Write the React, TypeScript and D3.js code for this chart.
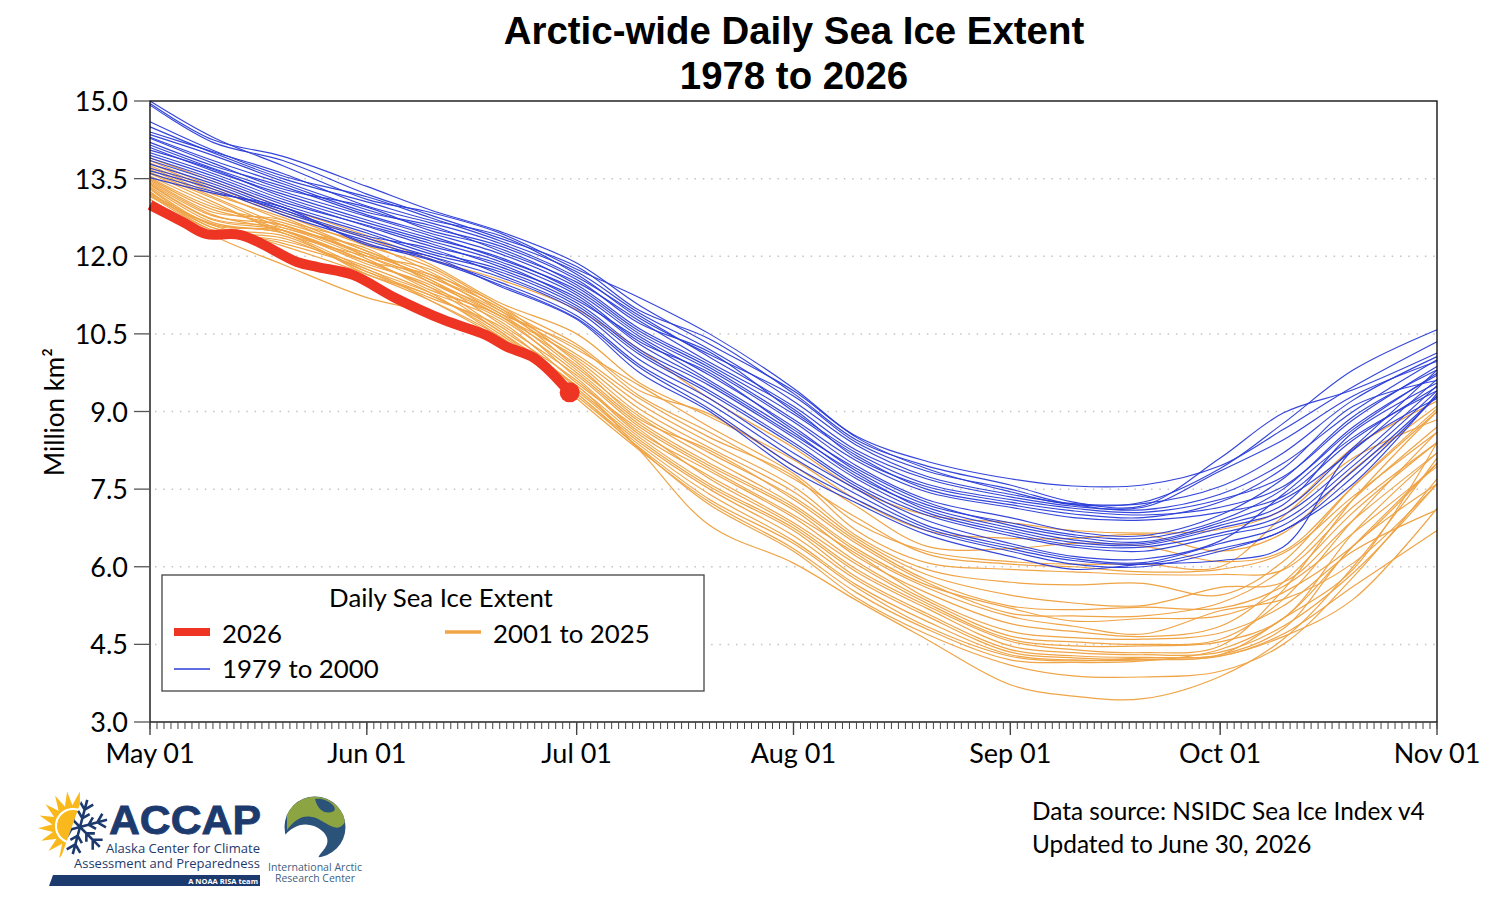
import React from "react";
import * as d3 from "d3";

const knotDates = ["2026-05-01","2026-05-10","2026-05-20","2026-06-01","2026-06-10","2026-06-20","2026-07-01","2026-07-10","2026-07-20","2026-08-01","2026-08-10","2026-08-20","2026-09-01","2026-09-10","2026-09-20","2026-10-01","2026-10-10","2026-10-20","2026-11-01"];

const blueYears: number[][] = [
[15.00,14.30,13.75,13.10,12.85,12.45,11.75,11.20,10.50,9.45,8.50,7.90,7.45,7.20,7.25,7.90,8.77,9.80,10.58],
[14.95,14.25,13.93,13.35,12.90,12.48,11.87,11.05,10.30,9.40,8.52,8.04,7.70,7.56,7.58,7.95,8.65,9.48,10.35],
[14.92,14.20,13.85,13.20,12.80,12.35,11.80,10.95,10.40,9.35,8.45,7.95,7.58,7.25,7.18,8.10,8.97,9.42,10.13],
[14.60,14.05,13.55,13.15,12.75,12.30,11.70,10.90,10.20,9.20,8.35,7.75,7.40,7.22,7.22,7.55,8.20,9.22,10.06],
[14.50,14.00,13.50,13.05,12.70,12.40,11.65,10.80,10.10,9.30,8.40,7.85,7.50,7.20,7.15,7.85,8.45,9.30,9.97],
[14.40,14.02,13.60,12.97,12.65,12.25,11.60,10.85,10.05,9.10,8.25,7.70,7.35,7.17,7.10,7.40,8.00,9.00,10.00],
[14.35,13.95,13.45,12.90,12.55,12.20,11.55,10.70,10.15,9.00,8.20,7.60,7.30,7.13,7.05,7.30,7.74,8.84,9.87],
[14.30,13.85,13.40,12.85,12.60,12.10,11.50,10.75,9.95,9.05,8.10,7.55,7.25,7.08,7.00,7.15,7.55,8.65,9.74],
[14.28,13.80,13.30,12.95,12.50,12.15,11.45,10.60,9.90,8.95,8.15,7.50,7.20,7.02,6.95,7.25,7.90,9.10,9.60],
[14.20,13.75,13.35,12.80,12.45,12.05,11.40,10.55,9.85,8.85,8.05,7.45,7.15,6.95,6.90,7.05,7.36,8.45,9.48],
[14.15,13.70,13.25,12.77,12.40,11.95,11.35,10.50,9.80,8.80,7.95,7.30,6.95,6.68,6.60,7.00,7.70,8.90,9.80],
[14.10,13.65,13.20,12.70,12.35,11.98,11.30,10.45,9.70,8.70,7.85,7.20,6.85,6.62,6.55,6.90,7.50,8.70,9.70],
[14.05,13.68,13.15,12.65,12.30,11.90,11.25,10.35,9.75,8.65,7.90,7.25,6.80,6.58,6.48,6.85,7.30,8.25,9.62],
[14.00,13.60,13.10,12.58,12.20,11.85,11.15,10.40,9.60,8.60,7.75,7.15,6.75,6.52,6.45,6.80,7.20,8.60,9.55],
[13.95,13.55,13.05,12.60,12.25,11.80,11.20,10.30,9.55,8.55,7.80,7.10,6.70,6.47,6.42,6.75,7.10,8.30,9.80],
[13.90,13.50,13.00,12.50,12.10,11.75,11.10,10.20,9.50,8.50,7.70,7.05,6.65,6.42,6.38,6.65,7.00,8.05,9.50],
[13.85,13.45,12.95,12.45,12.05,11.70,11.05,10.15,9.40,8.40,7.60,7.00,6.60,6.38,6.30,6.60,6.90,7.95,9.40],
[13.78,13.40,12.90,12.39,12.15,11.65,11.00,10.10,9.35,8.35,7.55,6.90,6.45,6.20,6.15,6.50,7.40,8.50,9.40],
[13.70,13.35,12.85,12.35,12.00,11.60,10.95,10.00,9.25,8.20,7.50,6.80,6.40,6.16,6.08,6.45,6.80,7.85,9.30],
[13.65,13.30,12.80,12.30,11.95,11.50,10.85,9.90,9.15,8.10,7.40,6.75,6.35,6.12,6.05,6.35,6.70,7.74,9.30],
[13.60,13.25,12.90,12.25,11.93,11.45,10.80,9.85,9.05,7.95,7.30,6.70,6.30,6.05,6.00,6.30,6.70,7.60,9.35],
[13.52,13.22,12.95,12.22,12.00,11.42,10.78,9.75,9.00,7.85,7.23,6.62,6.20,5.95,6.05,6.12,6.38,8.26,9.25],
];

const orangeYears: number[][] = [
[13.90,13.45,12.95,12.40,11.95,11.55,10.97,10.20,9.25,8.30,7.50,7.00,6.85,6.70,6.65,6.72,7.10,8.30,9.20],
[13.85,13.35,12.85,12.35,11.85,11.10,10.50,9.55,8.90,8.07,7.30,6.70,6.55,6.55,6.62,6.30,6.65,7.87,9.10],
[13.80,13.30,12.80,12.20,11.80,11.05,10.30,9.40,8.95,7.95,7.17,6.40,6.35,6.45,6.40,6.10,6.30,7.55,9.00],
[13.75,13.25,12.70,12.25,11.70,11.00,10.20,9.50,8.70,7.80,6.85,6.30,6.10,6.05,6.05,6.00,6.97,8.10,8.84],
[13.72,13.20,12.75,12.10,11.65,10.90,10.25,9.30,8.60,7.70,6.95,6.25,6.05,6.00,5.90,5.95,6.26,7.36,8.60],
[13.68,13.15,12.60,12.05,11.60,10.95,10.10,9.25,8.50,7.75,6.70,6.08,5.95,5.90,5.85,5.85,5.94,7.16,8.40],
[13.62,13.12,12.55,12.15,11.50,10.85,10.05,9.15,8.40,7.55,6.60,5.95,5.70,5.65,5.68,5.45,6.10,7.55,9.05],
[13.60,13.05,12.45,12.00,11.75,10.95,10.00,9.05,8.30,7.45,6.55,5.85,5.45,5.30,5.25,5.60,5.70,6.90,8.20],
[13.55,13.00,12.50,11.90,11.65,11.05,9.95,8.95,8.20,7.35,6.50,5.75,5.24,5.17,5.22,5.20,5.62,6.65,7.94],
[13.52,12.95,12.65,12.10,11.55,10.85,9.90,8.85,8.25,7.30,6.45,5.70,5.10,5.05,5.05,5.30,5.95,7.30,8.70],
[13.50,12.90,12.60,12.05,11.60,11.00,9.85,8.90,8.10,7.20,6.35,5.65,5.20,4.95,5.00,5.05,5.50,6.40,8.00],
[13.48,12.85,12.70,12.00,11.50,10.90,9.80,8.80,8.00,7.15,6.30,5.60,5.04,4.85,4.70,5.15,5.37,6.07,7.60],
[13.45,12.80,12.50,11.90,11.40,10.80,9.75,8.75,7.95,7.10,6.20,5.50,4.90,4.75,4.65,4.85,5.70,7.05,8.40],
[13.42,12.78,12.60,12.00,11.55,10.70,9.70,8.70,7.90,7.00,6.25,5.40,4.75,4.63,4.60,4.72,5.24,6.30,7.10],
[13.40,12.72,12.55,11.95,11.35,10.85,9.65,8.60,7.85,6.95,6.10,5.35,4.66,4.55,4.50,4.60,5.37,6.90,8.60],
[13.38,12.70,12.50,11.85,11.45,10.60,9.60,8.55,7.75,6.85,6.05,5.30,4.60,4.47,4.47,4.55,5.00,6.65,8.20],
[13.35,12.65,12.45,11.75,11.30,10.75,9.55,8.65,7.70,6.80,5.95,5.25,4.56,4.40,4.34,4.47,5.55,7.30,9.00],
[13.32,12.60,12.50,11.90,11.40,10.55,9.50,8.50,7.60,6.75,5.90,5.20,4.47,4.34,4.30,4.35,4.85,5.88,7.60],
[13.30,12.55,12.40,11.70,11.20,10.65,9.45,8.45,7.55,6.70,5.80,5.10,4.40,4.28,4.25,4.30,4.80,6.40,7.60],
[13.25,12.50,12.30,11.80,11.30,10.45,9.40,8.40,7.50,6.60,5.75,5.05,4.35,4.24,4.21,4.27,4.70,5.62,6.70],
[13.22,12.62,12.45,11.65,11.25,10.50,9.35,8.35,7.40,6.50,5.65,4.95,4.30,4.20,4.20,4.30,5.00,5.95,8.40],
[13.20,12.55,12.25,11.75,11.15,10.40,9.30,8.30,7.30,6.45,5.60,4.85,4.27,4.18,4.24,4.28,4.65,5.37,7.13],
[13.18,12.50,12.35,11.70,11.25,10.55,9.25,8.25,7.25,6.35,5.50,4.80,4.20,4.15,4.18,4.40,5.00,6.40,8.00],
[13.15,12.60,12.20,11.65,11.15,10.45,9.35,8.28,7.20,6.30,5.40,4.70,4.10,3.89,3.87,3.98,4.50,5.80,7.70],
[13.10,12.40,11.84,11.20,10.90,10.30,9.50,8.25,6.80,6.07,5.35,4.60,3.72,3.50,3.45,3.88,4.60,6.00,8.10],
];

const redDates = ["2026-05-01","2026-05-06","2026-05-09","2026-05-14","2026-05-22","2026-05-25","2026-05-30","2026-06-05","2026-06-12","2026-06-18","2026-06-21","2026-06-25","2026-06-30"];
const redValues = [12.99,12.64,12.43,12.41,11.89,11.79,11.64,11.2,10.77,10.48,10.25,10.03,9.37];

const yTicks = [3,4.5,6,7.5,9,10.5,12,13.5,15];
const monthTicks = ["2026-05-01","2026-06-01","2026-07-01","2026-08-01","2026-09-01","2026-10-01","2026-11-01"];
const monthLabels = ["May 01","Jun 01","Jul 01","Aug 01","Sep 01","Oct 01","Nov 01"];
const rayAngles = [8,-13,-34,-55,-76,-97,-118,-139,-160];
const flakeAngles = [0,60,120,180,240,300];

const BLUE = "#2a3cd8";
const ORANGE = "#efa446";
const RED = "#ee3524";
const NAVY = "#1d3a6e";
const SANS = "Lato, 'Open Sans', sans-serif";

const parse = (s: string) => new Date(s + "T00:00:00Z");
const x = d3.scaleUtc().domain([parse("2026-05-01"), parse("2026-11-01")]).range([150, 1437]);
const y = d3.scaleLinear().domain([3, 15]).range([722, 101]);
const knotX = knotDates.map((d) => x(parse(d)));
const line = d3.line<number>().x((_, i) => knotX[i]).y((v) => y(v)).curve(d3.curveCatmullRom.alpha(0.5));
const redLine = d3.line<number>().x((_, i) => x(parse(redDates[i]))).y((v) => y(v)).curve(d3.curveCatmullRom.alpha(0.5));
const days = d3.utcDay.range(parse("2026-05-01"), parse("2026-11-02"));

function Logo() {
  return (
    <g>
      <defs>
        <clipPath id="leftSide"><path d="M30,790 L85,790 L60,860 L30,860 Z" /></clipPath>
        <clipPath id="rightSide"><path d="M85,790 L120,790 L120,860 L60,860 Z" /></clipPath>
      </defs>
      <g clipPath="url(#leftSide)" fill="#f9b91c">
        {rayAngles.map((a) => (
          <path key={a} d="M-4.5,-18 L4.5,-18 L2,-35 Z" transform={`translate(73,826) rotate(${a})`} />
        ))}
        <circle cx={73} cy={826} r={16} />
      </g>
      <g clipPath="url(#rightSide)" stroke={NAVY} strokeWidth={2.6} fill="none">
        {flakeAngles.map((a) => (
          <path key={a} d="M0,0 L0,-28 M-7,-25 L0,-18 L7,-25 M-6,-15 L0,-9 L6,-15" transform={`translate(80,827) rotate(${a + 15})`} />
        ))}
      </g>
      <text x={109} y={834} fontFamily="'Liberation Sans', sans-serif" fontWeight={700} fontSize={40} fill={NAVY} stroke={NAVY} strokeWidth={0.8} textLength={152} lengthAdjust="spacingAndGlyphs">ACCAP</text>
      <text x={260} y={853} textAnchor="end" fontFamily="'Open Sans', sans-serif" fontSize={12.5} fill={NAVY} textLength={154} lengthAdjust="spacingAndGlyphs">Alaska Center for Climate</text>
      <text x={260} y={868} textAnchor="end" fontFamily="'Open Sans', sans-serif" fontSize={12.5} fill={NAVY} textLength={186} lengthAdjust="spacingAndGlyphs">Assessment and Preparedness</text>
      <path d="M53,875 L260,875 L260,886 L49,886 Z" fill={NAVY} />
      <text x={258} y={884} textAnchor="end" fontFamily="'Open Sans', sans-serif" fontSize={7.5} fontWeight={700} fill="#fff">A NOAA RISA team</text>
      <circle cx={315} cy={827} r={30.5} fill="#2b5279" />
      <path d="M287,815 A30.5,30.5 0 0 1 345,822 C338,835 326,822 316,818 C304,814 296,818 287,830 Z" fill="#8da443" />
      <path d="M315,799 C325,797 338,806 334,811 C326,815 318,811 315,799 Z" fill="#2b5279" />
      <path d="M283,838 C291,826 303,822 314,826 C326,831 331,840 325,848 C320,855 316,857 320,862 L283,870 Z" fill="#fff" />
      <text x={315} y={871} textAnchor="middle" fontFamily="'Open Sans', sans-serif" fontSize={10} fill="#3d5f82" textLength={94} lengthAdjust="spacingAndGlyphs">International Arctic</text>
      <text x={315} y={882} textAnchor="middle" fontFamily="'Open Sans', sans-serif" fontSize={10} fill="#3d5f82" textLength={80} lengthAdjust="spacingAndGlyphs">Research Center</text>
    </g>
  );
}

export default function App() {
  return (
    <svg width={1500} height={900} style={{ position: "absolute", left: 0, top: 0, background: "#fff" }}>
      <text x={794} y={44} textAnchor="middle" fontFamily="'Liberation Sans', sans-serif" fontWeight={700} fontSize={38.4}>Arctic-wide Daily Sea Ice Extent</text>
      <text x={794} y={89} textAnchor="middle" fontFamily="'Liberation Sans', sans-serif" fontWeight={700} fontSize={38.4}>1978 to 2026</text>

      {yTicks.slice(1, -1).map((t) => (
        <line key={t} x1={155} x2={1437} y1={y(t)} y2={y(t)} stroke="#c4c4c4" strokeWidth={1.5} strokeDasharray="1.5 6.8" />
      ))}

      <g fill="none">
        {orangeYears.map((s, i) => (
          <path key={i} d={line(s) as string} stroke={ORANGE} strokeWidth={1.2} />
        ))}
        {blueYears.map((s, i) => (
          <path key={i} d={line(s) as string} stroke={BLUE} strokeWidth={1.15} opacity={0.95} />
        ))}
        <path d={redLine(redValues) as string} stroke={RED} strokeWidth={10} />
      </g>
      <circle cx={x(parse(redDates[redDates.length - 1]))} cy={y(redValues[redValues.length - 1])} r={10} fill={RED} />

      <rect x={150} y={101} width={1287} height={621} fill="none" stroke="#000" strokeWidth={1.3} />

      {yTicks.map((t) => (
        <g key={t}>
          <line x1={134} x2={150} y1={y(t)} y2={y(t)} stroke="#555" strokeWidth={1.3} />
          <text x={128} y={y(t) + 10} textAnchor="end" fontFamily={SANS} fontSize={27}>{t.toFixed(1)}</text>
        </g>
      ))}
      {days.map((d, i) => (
        <line key={i} x1={x(d)} x2={x(d)} y1={722} y2={729} stroke="#444" strokeWidth={1} />
      ))}
      {monthTicks.map((m, i) => (
        <g key={m}>
          <line x1={x(parse(m))} x2={x(parse(m))} y1={722} y2={735} stroke="#444" strokeWidth={1.4} />
          <text x={x(parse(m))} y={763} textAnchor="middle" fontFamily={SANS} fontSize={27}>{monthLabels[i]}</text>
        </g>
      ))}
      <text transform="translate(64,412) rotate(-90)" textAnchor="middle" fontFamily={SANS} fontSize={26}>Million km²</text>

      <rect x={162} y={575} width={542} height={116} fill="#fff" stroke="#444" strokeWidth={1.3} />
      <text x={441} y={607} textAnchor="middle" fontFamily={SANS} fontSize={25.8}>Daily Sea Ice Extent</text>
      <line x1={174} x2={210} y1={632} y2={632} stroke={RED} strokeWidth={8} />
      <text x={222} y={643} fontFamily={SANS} fontSize={25.8}>2026</text>
      <line x1={174} x2={210} y1={669} y2={669} stroke={BLUE} strokeWidth={1.5} />
      <text x={222} y={678} fontFamily={SANS} fontSize={25.8}>1979 to 2000</text>
      <line x1={445} x2={481} y1={632} y2={632} stroke={ORANGE} strokeWidth={3.5} />
      <text x={493} y={643} fontFamily={SANS} fontSize={25.8}>2001 to 2025</text>

      <text x={1032} y={820} fontFamily={SANS} fontSize={24.4}>Data source: NSIDC Sea Ice Index v4</text>
      <text x={1032} y={853} fontFamily={SANS} fontSize={24.4}>Updated to June 30, 2026</text>

      <Logo />
    </svg>
  );
}
